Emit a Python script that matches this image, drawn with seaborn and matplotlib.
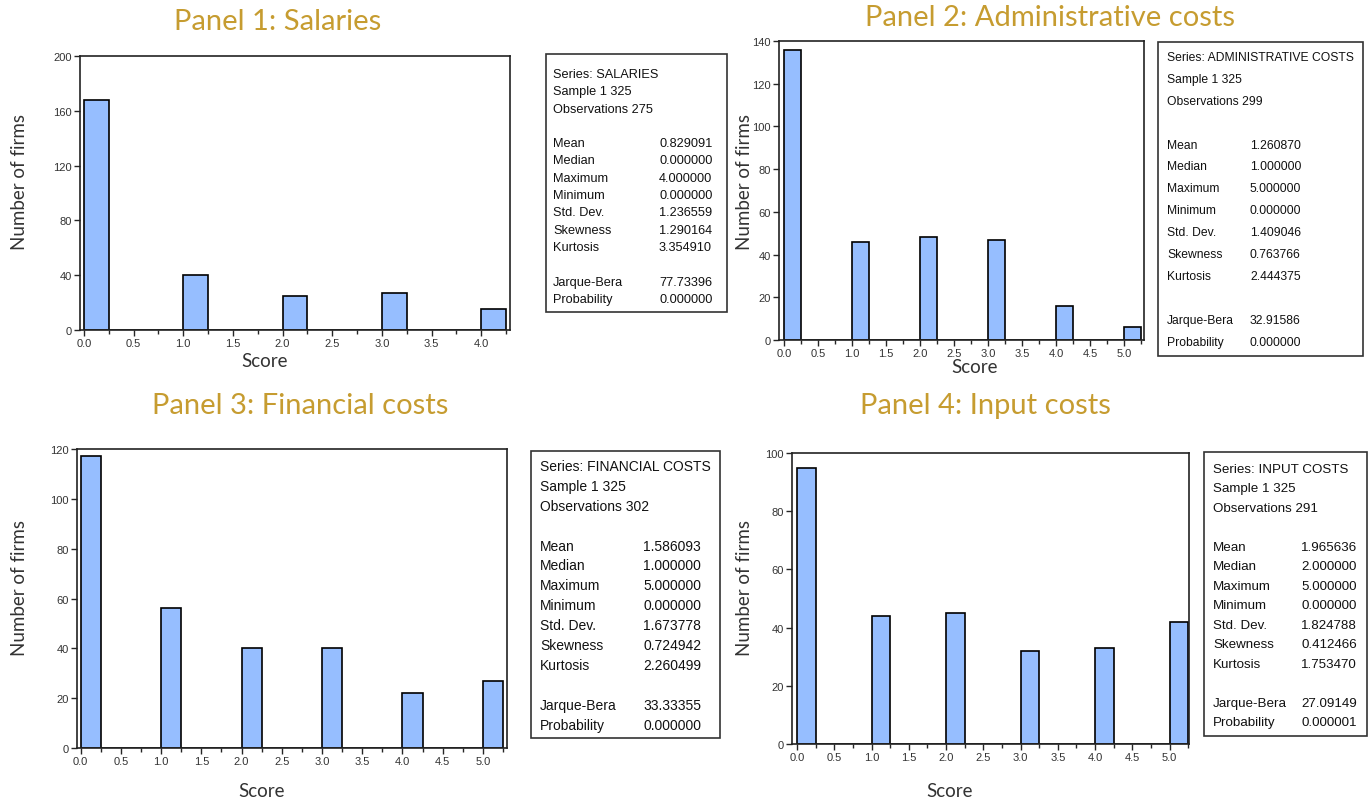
import numpy as np
import pandas as pd
import matplotlib
matplotlib.use("Agg")
import matplotlib.pyplot as plt
from matplotlib.ticker import MultipleLocator
from matplotlib.patches import Rectangle
import seaborn as sns

# Data (counts of firms per score)
salaries_scores = [0, 1, 2, 3, 4]
salaries_counts = [168, 40, 25, 27, 15]

admin_scores = [0, 1, 2, 3, 4, 5]
admin_counts = [136, 46, 48, 47, 16, 6]

financial_scores = [0, 1, 2, 3, 4, 5]
financial_counts = [117, 56, 40, 40, 22, 27]

input_scores = [0, 1, 2, 3, 4, 5]
input_counts = [95, 44, 45, 32, 33, 42]

panel_titles = ["Panel 1: Salaries", "Panel 2: Administrative costs",
                "Panel 3: Financial costs", "Panel 4: Input costs"]
series_names = ["SALARIES", "ADMINISTRATIVE COSTS", "FINANCIAL COSTS", "INPUT COSTS"]
observations = [275, 299, 302, 291]
stat_labels = ["Mean", "Median", "Maximum", "Minimum", "Std. Dev.", "Skewness", "Kurtosis"]
stat_values = [
    ["0.829091", "0.000000", "4.000000", "0.000000", "1.236559", "1.290164", "3.354910"],
    ["1.260870", "1.000000", "5.000000", "0.000000", "1.409046", "0.763766", "2.444375"],
    ["1.586093", "1.000000", "5.000000", "0.000000", "1.673778", "0.724942", "2.260499"],
    ["1.965636", "2.000000", "5.000000", "0.000000", "1.824788", "0.412466", "1.753470"],
]
jarque_bera = ["77.73396", "32.91586", "33.33355", "27.09149"]
probability = ["0.000000", "0.000000", "0.000000", "0.000001"]
y_limits = [200, 140, 120, 100]
y_steps = [40, 20, 20, 20]

W, H = 1372, 804
sns.set_theme(style="white")
plt.rcParams['font.family'] = ['Liberation Sans', 'DejaVu Sans']

fig = plt.figure(figsize=(W / 100, H / 100), dpi=100)


def rect(l, t, r, b):
    return [l / W, 1 - b / H, (r - l) / W, (b - t) / H]


def px(x, y):
    return x / W, 1 - y / H


gold = "#C69C30"
bar_color = "#96BEFF"

# layout: axes box (l, t, r, b), xlim, title pos, ylabel pos, xlabel pos, stats box
layout = [
    dict(ax=(80, 57, 510, 331), xlim=(-0.04, 4.29), title=(278, 22), ylab=(20, 182), xlab=(265, 362),
         box=(546, 55, 727, 313), lx=553, vx=659, y0=75, dy=17.3, fs=9.2),
    dict(ax=(779, 42, 1144, 341), xlim=(-0.074, 5.29), title=(1050, 18), ylab=(744, 182), xlab=(975, 368),
         box=(1158, 43, 1363, 357), lx=1167, vx=1250, y0=58, dy=21.9, fs=8.7),
    dict(ax=(77, 450, 507, 749), xlim=(-0.046, 5.30), title=(300, 406), ylab=(20, 588), xlab=(262, 792),
         box=(531, 452, 720, 739), lx=540, vx=643, y0=467, dy=19.9, fs=10),
    dict(ax=(792, 454, 1189, 745), xlim=(-0.067, 5.26), title=(985, 406), ylab=(745, 588), xlab=(950, 792),
         box=(1204, 453, 1367, 737), lx=1213, vx=1301, y0=470, dy=19.5, fs=9.6),
]

all_scores = [salaries_scores, admin_scores, financial_scores, input_scores]
all_counts = [salaries_counts, admin_counts, financial_counts, input_counts]

for i in range(4):
    lay = layout[i]
    ax = fig.add_axes(rect(*lay["ax"]))
    df = pd.DataFrame({"score": all_scores[i], "count": all_counts[i]})
    top = max(all_scores[i]) + 0.25
    sns.histplot(data=df, x="score", weights="count", binwidth=0.25, binrange=(0, top), ax=ax,
                 color=bar_color, alpha=1, edgecolor="black", linewidth=1.2)
    ax.set_xlim(*lay["xlim"])
    ax.set_ylim(0, y_limits[i])
    ax.xaxis.set_major_locator(MultipleLocator(0.5))
    ax.xaxis.set_minor_locator(MultipleLocator(0.25))
    ax.yaxis.set_major_locator(MultipleLocator(y_steps[i]))
    ax.xaxis.set_major_formatter(matplotlib.ticker.FormatStrFormatter("%.1f"))
    ax.tick_params(axis="both", which="major", direction="out", length=4, width=1,
                   labelsize=8, labelcolor="#333333", pad=2, bottom=True, left=True)
    ax.tick_params(axis="x", which="minor", direction="out", length=3, width=1, bottom=True)
    for s in ax.spines.values():
        s.set_color("#222222")
        s.set_linewidth(1.2)
    ax.set_xlabel("")
    ax.set_ylabel("")

    fig.text(*px(*lay["title"]), panel_titles[i], color=gold, fontsize=21,
             family=["Lato", "DejaVu Sans"], ha="center", va="center")
    fig.text(*px(*lay["ylab"]), "Number of firms", rotation=90, fontsize=13.5,
             family=["Lato", "DejaVu Sans"], color="#333333", ha="center", va="center")
    fig.text(*px(*lay["xlab"]), "Score", fontsize=13.5, family=["Lato", "DejaVu Sans"],
             color="#333333", ha="center", va="center")

    # statistics box
    l, t, r, b = lay["box"]
    fig.patches.append(Rectangle(px(l, b), (r - l) / W, (b - t) / H, transform=fig.transFigure,
                                 facecolor="white", edgecolor="#333333", linewidth=1.2))
    header = ["Series: " + series_names[i], "Sample 1 325", "Observations %d" % observations[i]]
    for k, line in enumerate(header):
        fig.text(*px(lay["lx"], lay["y0"] + k * lay["dy"]), line, fontsize=lay["fs"],
                 color="#111111", va="center", ha="left")
    rows = list(zip(stat_labels, stat_values[i])) + [None, ("Jarque-Bera", jarque_bera[i]),
                                                     ("Probability", probability[i])]
    for k, row in enumerate(rows):
        if row is None:
            continue
        y = lay["y0"] + (k + 4) * lay["dy"]
        fig.text(*px(lay["lx"], y), row[0], fontsize=lay["fs"], color="#111111", va="center")
        fig.text(*px(lay["vx"], y), row[1], fontsize=lay["fs"], color="#111111", va="center")

fig.savefig("out.png", dpi=100, facecolor="white")
